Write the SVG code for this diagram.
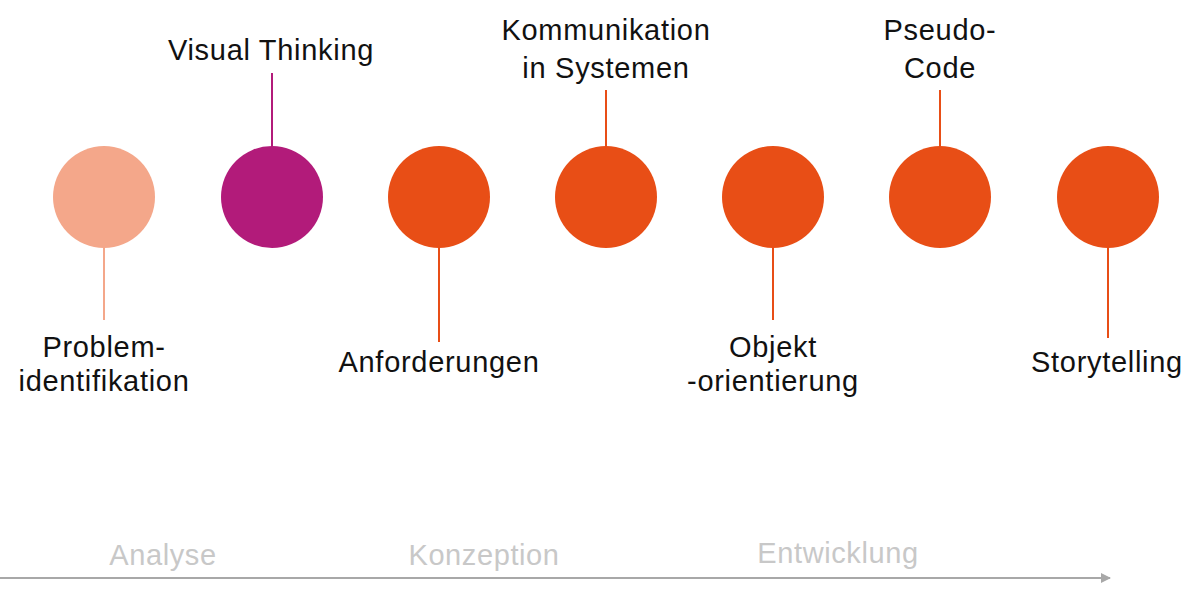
<svg xmlns="http://www.w3.org/2000/svg" width="1200" height="597" viewBox="0 0 1200 597">
<defs>
<style>
.lbl{font-family:"Liberation Sans",Arial,sans-serif;font-size:29px;letter-spacing:0.7px;fill:#111;text-anchor:middle}
.phase{font-family:"Liberation Sans",Arial,sans-serif;font-size:29px;letter-spacing:0.6px;fill:#c8c8c8;text-anchor:middle}
.c1{fill:#f4a78a}.c2{fill:#b21b7a}.c3{fill:#e84e16}
.l1{stroke:#f4a78a;stroke-width:2}.l2{stroke:#b21b7a;stroke-width:2}.l3{stroke:#e84e16;stroke-width:2}
</style>
<marker id="ah" markerWidth="10" markerHeight="10" refX="9" refY="5" orient="auto" markerUnits="userSpaceOnUse">
<path d="M0,0 L10,5 L0,10 z" fill="#a8a8a8"/>
</marker>
</defs>
<rect width="1200" height="597" fill="#fff"/>
<g id="connectors">
<line class="l1" x1="104" y1="247" x2="104" y2="320"/>
<line class="l2" x1="272" y1="73" x2="272" y2="147"/>
<line class="l3" x1="439" y1="247" x2="439" y2="342"/>
<line class="l3" x1="606" y1="90" x2="606" y2="147"/>
<line class="l3" x1="773" y1="247" x2="773" y2="320"/>
<line class="l3" x1="940" y1="90" x2="940" y2="147"/>
<line class="l3" x1="1108" y1="247" x2="1108" y2="338"/>
<line x1="0" y1="578" x2="1110" y2="578" stroke="#a8a8a8" stroke-width="2" marker-end="url(#ah)"/>
</g>
<g id="node-problem"><circle class="c1" cx="104" cy="197" r="51"/><text class="lbl" x="104" y="357">Problem-</text><text class="lbl" x="104" y="391">identifikation</text></g>
<g id="node-visual"><circle class="c2" cx="272" cy="197" r="51"/><text class="lbl" x="271" y="60">Visual Thinking</text></g>
<g id="node-anforderungen"><circle class="c3" cx="439" cy="197" r="51"/><text class="lbl" x="439" y="372">Anforderungen</text></g>
<g id="node-kommunikation"><circle class="c3" cx="606" cy="197" r="51"/><text class="lbl" x="606" y="40">Kommunikation</text><text class="lbl" x="606" y="78">in Systemen</text></g>
<g id="node-objekt"><circle class="c3" cx="773" cy="197" r="51"/><text class="lbl" x="773" y="357">Objekt</text><text class="lbl" x="773" y="391">-orientierung</text></g>
<g id="node-pseudo"><circle class="c3" cx="940" cy="197" r="51"/><text class="lbl" x="940" y="40">Pseudo-</text><text class="lbl" x="940" y="78">Code</text></g>
<g id="node-story"><circle class="c3" cx="1108" cy="197" r="51"/><text class="lbl" x="1107" y="372">Storytelling</text></g>
<g id="phases">
<text class="phase" x="163" y="565">Analyse</text>
<text class="phase" x="484" y="565">Konzeption</text>
<text class="phase" x="838" y="563">Entwicklung</text>
</g>
</svg>
